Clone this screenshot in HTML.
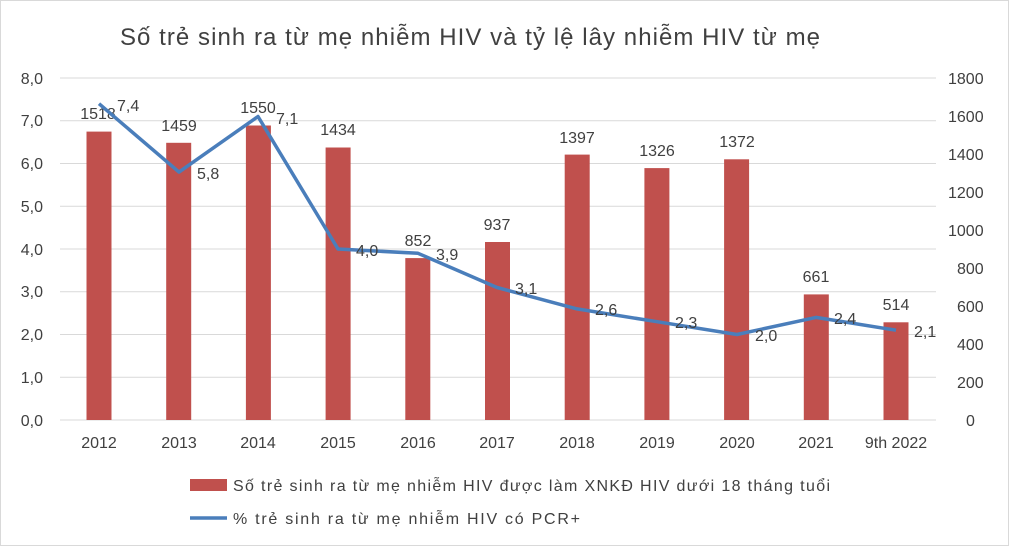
<!DOCTYPE html>
<html><head><meta charset="utf-8"><style>body{margin:0;background:#fff}svg{display:block}text{font-family:"Liberation Sans",sans-serif;fill:#404040}</style></head><body>
<svg width="1009" height="546" viewBox="0 0 1009 546" xmlns="http://www.w3.org/2000/svg">
<rect x="0.5" y="0.5" width="1008" height="545" fill="#fff" stroke="#d9d9d9"/>
<text x="120" y="45" font-size="24" textLength="700" lengthAdjust="spacing" fill="#404040">Số trẻ sinh ra từ mẹ nhiễm HIV và tỷ lệ lây nhiễm HIV từ mẹ</text>
<g stroke="#d9d9d9" stroke-width="1">
<line x1="60" x2="936" y1="78" y2="78"/><line x1="60" x2="936" y1="120.75" y2="120.75"/><line x1="60" x2="936" y1="163.5" y2="163.5"/><line x1="60" x2="936" y1="206.25" y2="206.25"/><line x1="60" x2="936" y1="249" y2="249"/><line x1="60" x2="936" y1="291.75" y2="291.75"/><line x1="60" x2="936" y1="334.5" y2="334.5"/><line x1="60" x2="936" y1="377.25" y2="377.25"/><line x1="60" x2="936" y1="420" y2="420"/>
</g>
<g font-size="16" text-anchor="end">
<text x="43" y="84">8,0</text><text x="43" y="126">7,0</text><text x="43" y="169">6,0</text><text x="43" y="212">5,0</text><text x="43" y="255">4,0</text><text x="43" y="297">3,0</text><text x="43" y="340">2,0</text><text x="43" y="383">1,0</text><text x="43" y="426">0,0</text>
</g>
<g font-size="16" text-anchor="start">
<text x="948" y="84">1800</text><text x="948" y="122">1600</text><text x="948" y="160">1400</text><text x="948" y="198">1200</text><text x="948" y="236">1000</text><text x="957" y="274">800</text><text x="957" y="312">600</text><text x="957" y="350">400</text><text x="957" y="388">200</text><text x="966" y="426">0</text>
</g>
<g fill="#c0504d">
<rect x="86.5" y="131.6" width="25" height="288.4"/>
<rect x="166.2" y="142.8" width="25" height="277.2"/>
<rect x="245.9" y="125.5" width="25" height="294.5"/>
<rect x="325.6" y="147.5" width="25" height="272.5"/>
<rect x="405.3" y="258.1" width="25" height="161.9"/>
<rect x="485" y="242" width="25" height="178"/>
<rect x="564.7" y="154.6" width="25" height="265.4"/>
<rect x="644.4" y="168.1" width="25" height="251.9"/>
<rect x="724.1" y="159.3" width="25" height="260.7"/>
<rect x="803.8" y="294.4" width="25" height="125.6"/>
<rect x="883.5" y="322.3" width="25" height="97.7"/>
</g>
<g font-size="16" text-anchor="middle">
<text x="98" y="119">1518</text><text x="179" y="131">1459</text><text x="258" y="113">1550</text><text x="338" y="135">1434</text><text x="418" y="246">852</text><text x="497" y="230">937</text><text x="577" y="143">1397</text><text x="657" y="156">1326</text><text x="737" y="147">1372</text><text x="816" y="282">661</text><text x="896" y="310">514</text>
</g>
<polyline fill="none" stroke="#4a7ebb" stroke-width="3.5" stroke-linejoin="round" points="99,103.7 179,172.1 258,116.5 338,249 418,253.3 497,287.5 577,308.9 657,321.7 737,334.5 816,317.4 896,330.2"/>
<g font-size="16">
<text x="117" y="111">7,4</text><text x="197" y="179">5,8</text><text x="276" y="124">7,1</text><text x="356" y="256">4,0</text><text x="436" y="260">3,9</text><text x="515" y="294">3,1</text><text x="595" y="315">2,6</text><text x="675" y="328">2,3</text><text x="755" y="341">2,0</text><text x="834" y="324">2,4</text><text x="914" y="337">2,1</text>
</g>
<g font-size="16" text-anchor="middle">
<text x="99" y="448">2012</text><text x="179" y="448">2013</text><text x="258" y="448">2014</text><text x="338" y="448">2015</text><text x="418" y="448">2016</text><text x="497" y="448">2017</text><text x="577" y="448">2018</text><text x="657" y="448">2019</text><text x="737" y="448">2020</text><text x="816" y="448">2021</text><text x="896" y="448">9th 2022</text>
</g>
<rect x="190" y="479" width="37" height="12" fill="#c0504d"/>
<text x="233" y="491" font-size="16" textLength="597" lengthAdjust="spacing">Số trẻ sinh ra từ mẹ nhiễm HIV được làm XNKĐ HIV dưới 18 tháng tuổi</text>
<line x1="190" x2="227" y1="518" y2="518" stroke="#4a7ebb" stroke-width="3.5"/>
<text x="233" y="524" font-size="16" textLength="347" lengthAdjust="spacing">% trẻ sinh ra từ mẹ nhiễm HIV có PCR+</text>
</svg>
</body></html>
